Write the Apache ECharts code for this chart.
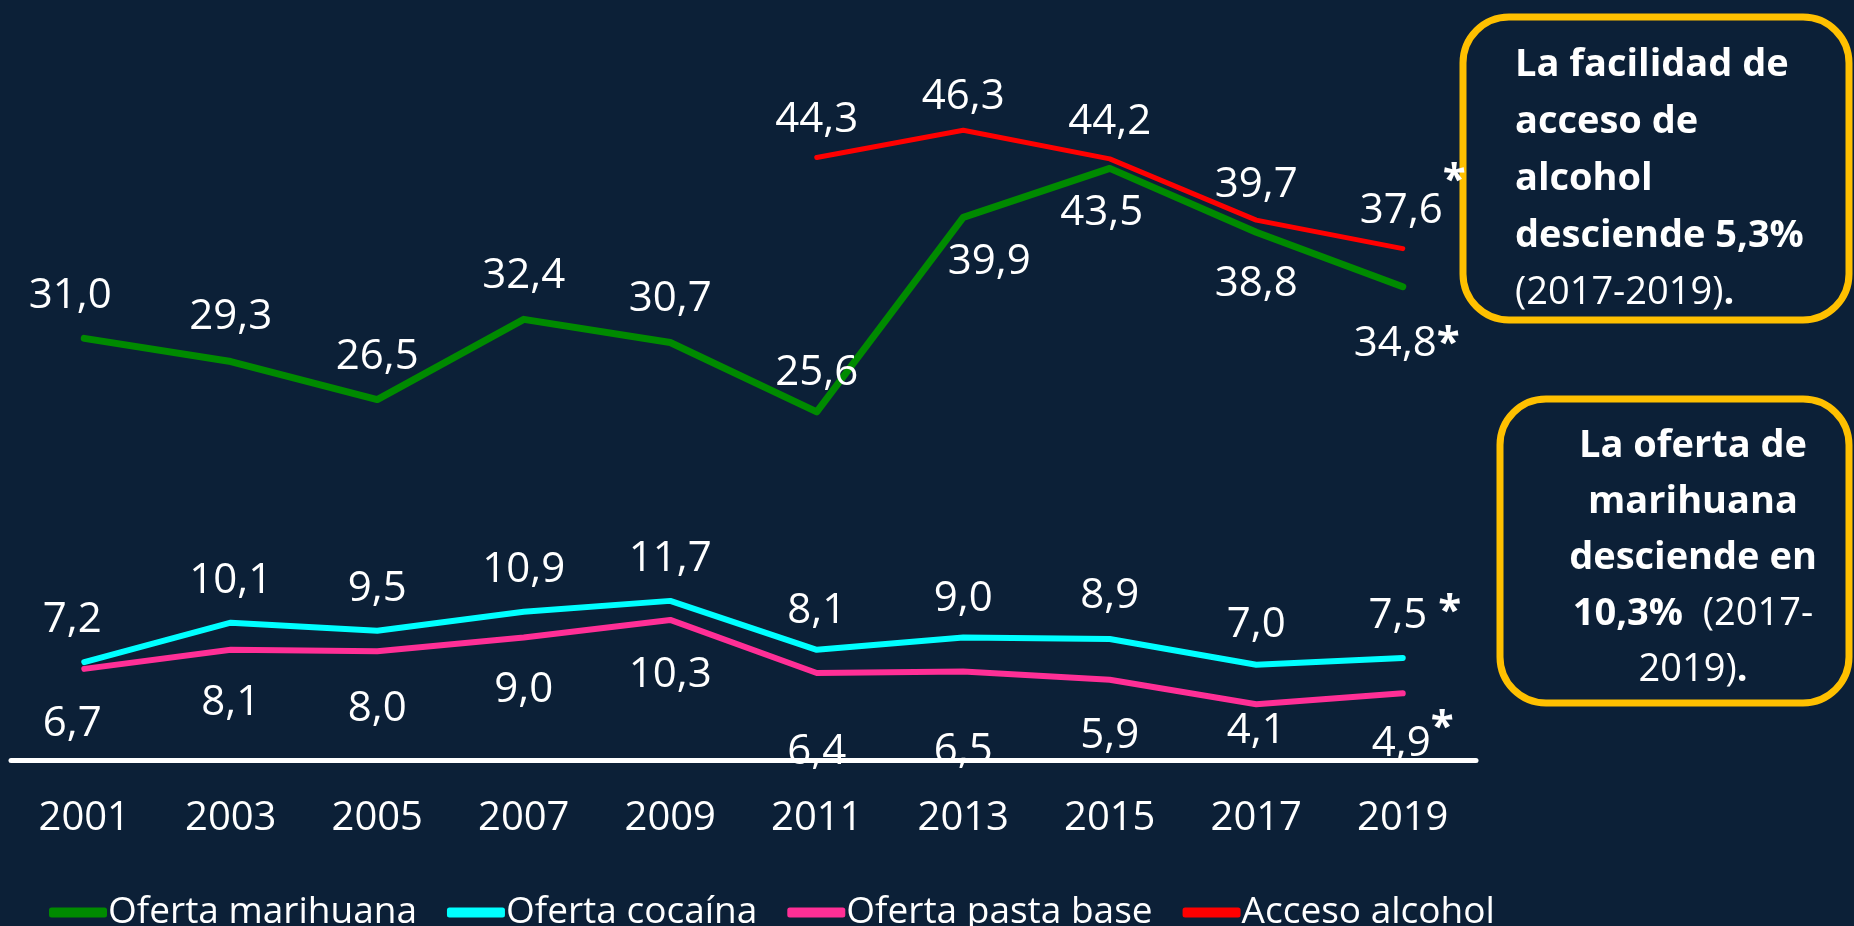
<!DOCTYPE html>
<html>
<head>
<meta charset="utf-8">
<script src="https://cdn.jsdelivr.net/npm/echarts@6/dist/echarts.min.js"></script>
<style>
  html, body { margin: 0; padding: 0; background: #0c2037; }
  #chart { width: 1854px; height: 926px; }
</style>
</head>
<body>
<div id="chart"></div>
<script>
  // datos
  const years = ['2001', '2003', '2005', '2007', '2009', '2011', '2013', '2015', '2017', '2019'];
  const marihuana = [31.0, 29.3, 26.5, 32.4, 30.7, 25.6, 39.9, 43.5, 38.8, 34.8];
  const cocaina = [7.2, 10.1, 9.5, 10.9, 11.7, 8.1, 9.0, 8.9, 7.0, 7.5];
  const pastaBase = [6.7, 8.1, 8.0, 9.0, 10.3, 6.4, 6.5, 5.9, 4.1, 4.9];
  const alcohol = [null, null, null, null, null, 44.3, 46.3, 44.2, 39.7, 37.6];
  const seriesNames = ['Oferta marihuana', 'Oferta cocaína', 'Oferta pasta base', 'Acceso alcohol'];

  const FONT = 'Open Sans';
  const BG = '#0c2037';

  // desplazamiento de etiquetas (px, centro de la etiqueta respecto al punto)
  const shiftMar = [[-14, -42], [0, -44], [0, -43], [0, -43], [0, -43], [0, -39], [26, 45], [-8, 45], [0, 52], [4, 55]];
  const shiftCoc = [[-12, -42], [0, -42], [0, -42], [0, -42], [0, -42], [0, -39], [0, -39], [0, -43], [0, -40], [12, -44]];
  const shiftPas = [[-12, 55], [0, 53], [0, 58], [0, 52], [0, 55], [0, 79], [0, 79], [0, 56], [0, 27], [10, 49]];
  const shiftAlc = [[0, 0], [0, 0], [0, 0], [0, 0], [0, 0], [0, -37], [0, -33], [0, -37], [0, -35], [10, -40]];

  function fmt(v) {
    return v.toFixed(1).replace('.', ',');
  }

  function buildData(values, shifts) {
    return values.map((v, i) => v == null ? null : ({ value: v, label: { offset: shifts[i] } }));
  }

  function makeSeries(name, values, shifts, color, width, raise, gap) {
    return {
      name: name,
      type: 'line',
      data: buildData(values, shifts),
      symbol: 'circle',
      symbolSize: 0.1,
      lineStyle: { color: color, width: width, cap: 'round', join: 'round' },
      itemStyle: { color: color },
      connectNulls: false,
      emphasis: { disabled: true },
      label: {
        show: true,
        position: 'inside',
        color: '#fff',
        fontFamily: FONT,
        fontSize: 42,
        formatter: p => p.dataIndex === years.length - 1 ? '{v|' + fmt(p.value) + '}' + gap + '{a|*}' : fmt(p.value),
        rich: {
          v: { color: '#fff', fontFamily: FONT, fontSize: 42, lineHeight: 46, verticalAlign: 'bottom' },
          a: { color: '#fff', fontFamily: FONT, fontSize: 42, fontWeight: 'bold', lineHeight: 46, verticalAlign: 'bottom', padding: [0, 0, raise, 0] }
        }
      }
    };
  }

  const chart = echarts.init(document.getElementById('chart'));

  const option = {
    backgroundColor: BG,
    animation: false,
    grid: { left: 11, right: 378, top: 80, bottom: 166, containLabel: false },
    legend: {
      data: seriesNames,
      left: 44,
      top: 889,
      icon: 'roundRect',
      itemWidth: 58,
      itemHeight: 10,
      itemGap: 30,
      textStyle: { color: '#fff', fontFamily: FONT, fontSize: 37, padding: [0, 0, 0, -4] }
    },
    xAxis: {
      type: 'category',
      data: years,
      boundaryGap: true,
      axisLine: { lineStyle: { color: '#fff', width: 5 } },
      axisTick: { show: false },
      axisLabel: { color: '#fff', fontFamily: FONT, fontSize: 40, margin: 39 }
    },
    yAxis: {
      type: 'value',
      min: 0,
      max: 50,
      show: false,
      splitLine: { show: false }
    },
    series: [
      makeSeries(seriesNames[0], marihuana, shiftMar, '#008a00', 7, 0, ''),
      makeSeries(seriesNames[1], cocaina, shiftCoc, '#00ffff', 6, 4, '{v| }'),
      makeSeries(seriesNames[2], pastaBase, shiftPas, '#ff2f96', 6, 16, ''),
      makeSeries(seriesNames[3], alcohol, shiftAlc, '#ff0000', 5, 30, '')
    ],
    graphic: [
      {
        type: 'rect',
        shape: { x: 1463, y: 17, width: 386, height: 303, r: 46 },
        style: { fill: BG, stroke: '#ffc000', lineWidth: 7 }
      },
      {
        type: 'text',
        left: 1515,
        top: 46,
        style: {
          text: '{b|La facilidad de}\n{b|acceso de}\n{b|alcohol}\n{b|desciende 5,3%}\n{n|(2017-2019)}{b|.}',
          fill: '#fff',
          rich: {
            b: { fill: '#fff', fontFamily: FONT, fontWeight: 'bold', fontSize: 38, lineHeight: 57 },
            n: { fill: '#fff', fontFamily: FONT, fontSize: 38, lineHeight: 57 }
          }
        }
      },
      {
        type: 'rect',
        shape: { x: 1500, y: 399, width: 349, height: 304, r: 46 },
        style: { fill: BG, stroke: '#ffc000', lineWidth: 7 }
      },
      {
        type: 'text',
        x: 1693,
        y: 418,
        style: {
          text: '{b|La oferta de}\n{b|marihuana}\n{b|desciende en}\n{b|10,3%}{n|  (2017-}\n{n|2019)}{b|.}',
          fill: '#fff',
          align: 'center',
          verticalAlign: 'top',
          rich: {
            b: { fill: '#fff', fontFamily: FONT, fontWeight: 'bold', fontSize: 38, lineHeight: 56, align: 'center' },
            n: { fill: '#fff', fontFamily: FONT, fontSize: 38, lineHeight: 56, align: 'center' }
          }
        }
      }
    ]
  };

  chart.setOption(option);
</script>
</body>
</html>
